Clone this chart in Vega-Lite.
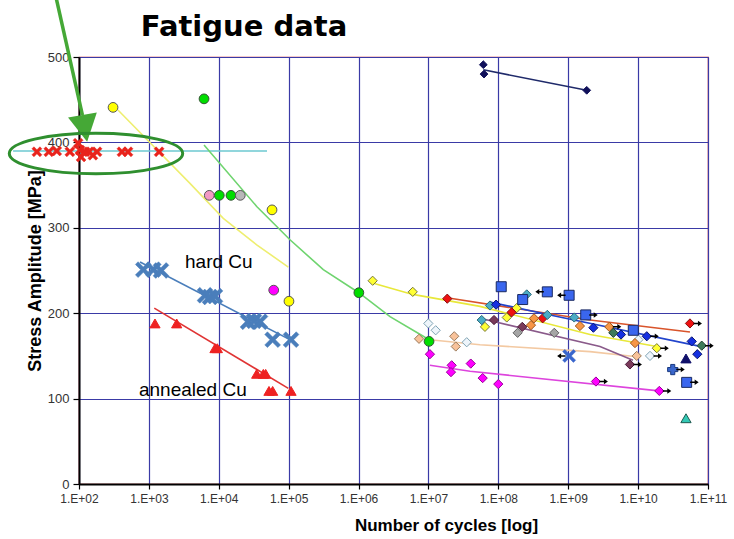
{
  "$schema": "https://vega.github.io/schema/vega-lite/v6.json",
  "width": 629,
  "height": 427,
  "autosize": {"type": "none"},
  "padding": {"left": 79, "top": 57, "right": 26, "bottom": 55},
  "background": "white",
  "config": {
    "view": {"stroke": "#d22b2b", "strokeWidth": 1.2},
    "axis": {
      "labelFont": "Liberation Sans",
      "titleFont": "Liberation Sans",
      "labelColor": "#333333",
      "titleColor": "black",
      "titleFontWeight": "bold",
      "titleFontSize": 17,
      "domainColor": "black",
      "domainWidth": 2,
      "tickColor": "black",
      "tickWidth": 1.2,
      "gridColor": "#3a3aa6",
      "gridWidth": 1.2,
      "gridOpacity": 1
    }
  },
  "datasets": {
    "minor": [
      {"s": 20}, {"s": 40}, {"s": 60}, {"s": 80},
      {"s": 120}, {"s": 140}, {"s": 160}, {"s": 180},
      {"s": 220}, {"s": 240}, {"s": 260}, {"s": 280},
      {"s": 320}, {"s": 340}, {"s": 360}, {"s": 380},
      {"s": 420}, {"s": 440}, {"s": 460}, {"s": 480}
    ],
    "fits": [
      {"fit": "ref390", "n": 11.4, "s": 390}, {"fit": "ref390", "n": 49000, "s": 390},
      {"fit": "yc", "n": 361, "s": 438}, {"fit": "yc", "n": 3870, "s": 352}, {"fit": "yc", "n": 11600, "s": 311}, {"fit": "yc", "n": 34900, "s": 280}, {"fit": "yc", "n": 98900, "s": 254},
      {"fit": "gc", "n": 6150, "s": 397}, {"fit": "gc", "n": 34900, "s": 325}, {"fit": "gc", "n": 104500, "s": 286}, {"fit": "gc", "n": 313000, "s": 251}, {"fit": "gc", "n": 1010000, "s": 224}, {"fit": "gc", "n": 2820000, "s": 196}, {"fit": "gc", "n": 8430000, "s": 173}, {"fit": "gc", "n": 10500000, "s": 168},
      {"fit": "hard Cu", "n": 747, "s": 260}, {"fit": "hard Cu", "n": 116000, "s": 167},
      {"fit": "annealed Cu", "n": 1194, "s": 206}, {"fit": "annealed Cu", "n": 98900, "s": 112},
      {"fit": "nd", "n": 61000000, "s": 485}, {"fit": "nd", "n": 1840000000, "s": 461},
      {"fit": "A", "n": 1630000, "s": 235}, {"fit": "A", "n": 5960000, "s": 222}, {"fit": "A", "n": 54700000, "s": 208}, {"fit": "A", "n": 2050000000, "s": 175}, {"fit": "A", "n": 18500000000, "s": 161},
      {"fit": "B", "n": 18400000, "s": 218}, {"fit": "B", "n": 2050000000, "s": 192}, {"fit": "B", "n": 55200000000, "s": 178},
      {"fit": "D", "n": 10500000, "s": 169}, {"fit": "D", "n": 54700000, "s": 163}, {"fit": "D", "n": 2050000000, "s": 155}, {"fit": "D", "n": 9550000000, "s": 149},
      {"fit": "E", "n": 10500000, "s": 139}, {"fit": "E", "n": 39400000, "s": 132}, {"fit": "E", "n": 19900000000, "s": 109},
      {"fit": "G", "n": 76000000, "s": 213}, {"fit": "G", "n": 550000000, "s": 198}, {"fit": "G", "n": 90600000000, "s": 160},
      {"fit": "J", "n": 54700000, "s": 194}, {"fit": "J", "n": 2850000000, "s": 161}, {"fit": "J", "n": 8450000000, "s": 145}
    ],
    "points": [
      {"series": "Cu", "n": 25, "s": 389}, {"series": "Cu", "n": 37, "s": 389}, {"series": "Cu", "n": 48, "s": 390}, {"series": "Cu", "n": 74, "s": 389},
      {"series": "Cu", "n": 97, "s": 399}, {"series": "Cu", "n": 103, "s": 391}, {"series": "Cu", "n": 107, "s": 383}, {"series": "Cu", "n": 122, "s": 389},
      {"series": "Cu", "n": 139, "s": 389}, {"series": "Cu", "n": 158, "s": 385}, {"series": "Cu", "n": 181, "s": 389}, {"series": "Cu", "n": 412, "s": 389},
      {"series": "Cu", "n": 502, "s": 389}, {"series": "Cu", "n": 1400, "s": 389},
      {"series": "hard Cu", "n": 832, "s": 251}, {"series": "hard Cu", "n": 1156, "s": 251}, {"series": "hard Cu", "n": 1489, "s": 250},
      {"series": "hard Cu", "n": 6350, "s": 221}, {"series": "hard Cu", "n": 7480, "s": 219}, {"series": "hard Cu", "n": 8830, "s": 220},
      {"series": "hard Cu", "n": 26200, "s": 190}, {"series": "hard Cu", "n": 31900, "s": 191}, {"series": "hard Cu", "n": 38900, "s": 190},
      {"series": "hard Cu", "n": 59000, "s": 169}, {"series": "hard Cu", "n": 108000, "s": 169},
      {"series": "annealed Cu", "n": 1222, "s": 188}, {"series": "annealed Cu", "n": 2500, "s": 188}, {"series": "annealed Cu", "n": 8830, "s": 159}, {"series": "annealed Cu", "n": 9530, "s": 159},
      {"series": "annealed Cu", "n": 34900, "s": 129}, {"series": "annealed Cu", "n": 43400, "s": 129}, {"series": "annealed Cu", "n": 46900, "s": 129},
      {"series": "annealed Cu", "n": 52300, "s": 109}, {"series": "annealed Cu", "n": 59000, "s": 109}, {"series": "annealed Cu", "n": 108000, "s": 109},
      {"series": "yc", "n": 307, "s": 441}, {"series": "yc", "n": 57800, "s": 321}, {"series": "yc", "n": 101000, "s": 214},
      {"series": "gc", "n": 6150, "s": 451}, {"series": "gc", "n": 10170, "s": 338}, {"series": "gc", "n": 14960, "s": 338}, {"series": "gc", "n": 1010000, "s": 224}, {"series": "gc", "n": 10200000, "s": 167},
      {"series": "pc", "n": 7310, "s": 338},
      {"series": "grc", "n": 20300, "s": 338},
      {"series": "mc", "n": 61100, "s": 227},
      {"series": "nd", "n": 61000000, "s": 491}, {"series": "nd", "n": 62400000, "s": 480}, {"series": "nd", "n": 1840000000, "s": 461},
      {"series": "A", "n": 1590000, "s": 238}, {"series": "A", "n": 5960000, "s": 225}, {"series": "A", "n": 64400000, "s": 184}, {"series": "A", "n": 132000000, "s": 195}, {"series": "A", "n": 183000000, "s": 206}, {"series": "A", "n": 18500000000, "s": 159, "runout": "right"},
      {"series": "B", "n": 18600000, "s": 217}, {"series": "B", "n": 155000000, "s": 201}, {"series": "B", "n": 431000000, "s": 194}, {"series": "B", "n": 55200000000, "s": 188, "runout": "right"},
      {"series": "C", "n": 9960000, "s": 188}, {"series": "C", "n": 12700000, "s": 180}, {"series": "C", "n": 35300000, "s": 166}, {"series": "C", "n": 10100000000, "s": 169}, {"series": "C", "n": 14800000000, "s": 150, "runout": "right"},
      {"series": "D", "n": 7330000, "s": 170}, {"series": "D", "n": 23400000, "s": 173}, {"series": "D", "n": 24600000, "s": 161}, {"series": "D", "n": 9550000000, "s": 150},
      {"series": "E", "n": 10500000, "s": 152}, {"series": "E", "n": 21500000, "s": 139}, {"series": "E", "n": 21000000, "s": 131}, {"series": "E", "n": 40300000, "s": 141}, {"series": "E", "n": 59700000, "s": 124}, {"series": "E", "n": 99800000, "s": 117}, {"series": "E", "n": 2490000000, "s": 120, "runout": "right"}, {"series": "E", "n": 20100000000, "s": 109, "runout": "right"},
      {"series": "F", "n": 255000000, "s": 222}, {"series": "F", "n": 76000000, "s": 209}, {"series": "F", "n": 57800000, "s": 192}, {"series": "F", "n": 502000000, "s": 198}, {"series": "F", "n": 1220000000, "s": 195},
      {"series": "G", "n": 92700000, "s": 210}, {"series": "G", "n": 2290000000, "s": 183}, {"series": "G", "n": 5690000000, "s": 175}, {"series": "G", "n": 13300000000, "s": 173, "runout": "right"}, {"series": "G", "n": 58500000000, "s": 167}, {"series": "G", "n": 70300000000, "s": 152},
      {"series": "H", "n": 110000000, "s": 231}, {"series": "H", "n": 223000000, "s": 216}, {"series": "H", "n": 502000000, "s": 225, "runout": "left"}, {"series": "H", "n": 1030000000, "s": 221, "runout": "left"}, {"series": "H", "n": 1780000000, "s": 198, "runout": "right"}, {"series": "H", "n": 8530000000, "s": 180}, {"series": "H", "n": 49500000000, "s": 119, "runout": "right"},
      {"series": "I", "n": 324000000, "s": 194}, {"series": "I", "n": 293000000, "s": 186}, {"series": "I", "n": 1470000000, "s": 185}, {"series": "I", "n": 3870000000, "s": 184, "runout": "right"}, {"series": "I", "n": 9020000000, "s": 165},
      {"series": "J", "n": 86700000, "s": 192}, {"series": "J", "n": 220000000, "s": 184}, {"series": "J", "n": 7640000000, "s": 140, "runout": "right"},
      {"series": "K", "n": 189000000, "s": 177}, {"series": "K", "n": 632000000, "s": 177},
      {"series": "L", "n": 4420000000, "s": 177}, {"series": "L", "n": 81300000000, "s": 162, "runout": "right"},
      {"series": "M", "n": 48400000000, "s": 147},
      {"series": "N", "n": 31300000000, "s": 134, "runout": "right"},
      {"series": "P", "n": 1030000000, "s": 150, "runout": "left"},
      {"series": "O", "n": 48400000000, "s": 77}
    ],
    "labels": [
      {"label": "hard Cu", "n": 3290, "s": 253},
      {"label": "annealed Cu", "n": 721, "s": 103}
    ],
    "heading": [{"label": "Fatigue data", "n": 22960, "s": 524.6}],
    "pointer": [
      {"n": 46, "s": 573},
      {"n": 112, "s": 432}
    ],
    "pointerHead": [{"n": 112, "s": 432}],
    "ring": [{"n": 175, "s": 387}]
  },
  "encoding": {
    "x": {
      "field": "n",
      "type": "quantitative",
      "scale": {"type": "log", "domain": [100, 100000000000], "nice": false},
      "axis": {
        "title": "Number of cycles [log]",
        "values": [100, 1000, 10000, 100000, 1000000, 10000000, 100000000, 1000000000, 10000000000, 100000000000],
        "labelExpr": "'1.E+' + format(round(log(datum.value) / LN10), '02d')",
        "grid": true,
        "tickSize": 5,
        "labelFontSize": 12,
        "labelPadding": 4,
        "labelFlush": false,
        "labelOverlap": false,
        "titleX": 367,
        "titleY": 33,
        "titleBaseline": "top",
        "titleAlign": "center"
      }
    },
    "y": {
      "field": "s",
      "type": "quantitative",
      "scale": {"domain": [0, 500], "nice": false, "zero": false},
      "axis": {
        "title": "Stress Amplitude [MPa]",
        "values": [0, 100, 200, 300, 400, 500],
        "grid": true,
        "tickSize": 6,
        "labelFontSize": 13,
        "labelPadding": 4,
        "titleFontSize": 18,
        "titlePadding": 3
      }
    }
  },
  "layer": [
    {
      "data": {"name": "minor"},
      "mark": {"type": "rule", "color": "#3cc6d6", "strokeWidth": 1.5, "strokeDash": [4, 2]},
      "encoding": {
        "x": {"datum": 100, "type": "quantitative"},
        "x2": {"datum": 100000000000}
      }
    },
    {
      "data": {"name": "fits"},
      "mark": {"type": "line", "strokeWidth": 1.6},
      "encoding": {
        "color": {
          "field": "fit",
          "type": "nominal",
          "legend": null,
          "scale": {
            "domain": ["ref390", "yc", "gc", "hard Cu", "annealed Cu", "nd", "A", "B", "D", "E", "G", "J"],
            "range": ["#6cc9d0", "#eeee70", "#6fd46f", "#4a7ebb", "#e03434", "#1f2a6a", "#e8e83a", "#d9542b", "#f3c9a2", "#dd44dd", "#2244cc", "#8a5a8a"]
          }
        }
      }
    },
    {
      "data": {"name": "points"},
      "encoding": {
        "color": {
          "field": "series", "type": "nominal", "legend": null,
          "scale": {
            "domain": ["Cu", "hard Cu", "annealed Cu", "yc", "gc", "pc", "grc", "mc", "nd", "A", "B", "C", "D", "E", "F", "G", "H", "I", "J", "K", "L", "M", "N", "P", "O"],
            "range": ["#e8231c", "#4a7ebb", "#ee2222", "#ffff00", "#00dd00", "#f29ac4", "#b8b8b8", "#ff00ff", "#10105a", "#ffff33", "#ee1111", "#eef5fb", "#f8c29a", "#ff00ff", "#4bacc6", "#1530e0", "#3a66ee", "#f79646", "#7a3a5a", "#a5a5a5", "#3d7a5a", "#10106a", "#3a66cc", "#3a66cc", "#33c9b5"]
          }
        },
        "stroke": {
          "field": "series", "type": "nominal", "legend": null,
          "scale": {
            "domain": ["Cu", "hard Cu", "annealed Cu", "yc", "gc", "pc", "grc", "mc", "nd", "A", "B", "C", "D", "E", "F", "G", "H", "I", "J", "K", "L", "M", "N", "P", "O"],
            "range": ["#e8231c", "#4a7ebb", "#ee2222", "#555555", "#335533", "#555555", "#555555", "#555555", "#10105a", "#77773a", "#881111", "#7fa3b3", "#9a7a5a", "#990099", "#2a6a7a", "#0a1570", "#1a2a60", "#a0581a", "#4a1a3a", "#606060", "#1f4030", "#10106a", "#1a3a80", "#3a66cc", "#1d5a50"]
          }
        },
        "shape": {
          "field": "series", "type": "nominal", "legend": null,
          "scale": {
            "domain": ["Cu", "hard Cu", "annealed Cu", "yc", "gc", "pc", "grc", "mc", "nd", "A", "B", "C", "D", "E", "F", "G", "H", "I", "J", "K", "L", "M", "N", "P", "O"],
            "range": [
              "M-1,-0.6L-0.6,-1L0,-0.4L0.6,-1L1,-0.6L0.4,0L1,0.6L0.6,1L0,0.4L-0.6,1L-1,0.6L-0.4,0Z",
              "M-1,-0.66L-0.66,-1L0,-0.34L0.66,-1L1,-0.66L0.34,0L1,0.66L0.66,1L0,0.34L-0.66,1L-1,0.66L-0.34,0Z",
              "triangle-up", "circle", "circle", "circle", "circle", "circle", "diamond",
              "diamond", "diamond", "diamond", "diamond", "diamond", "diamond", "diamond", "square",
              "diamond", "diamond", "diamond", "diamond", "triangle-up", "cross",
              "M-1,-0.66L-0.66,-1L0,-0.34L0.66,-1L1,-0.66L0.34,0L1,0.66L0.66,1L0,0.34L-0.66,1L-1,0.66L-0.34,0Z",
              "triangle-up"
            ]
          }
        }
      },
      "layer": [
        {
          "transform": [{"filter": "datum.series === 'Cu'"}],
          "mark": {"type": "point", "filled": true, "opacity": 1, "strokeWidth": 0.5, "size": 100}
        },
        {
          "transform": [{"filter": "datum.series === 'hard Cu'"}],
          "mark": {"type": "point", "filled": true, "opacity": 1, "strokeWidth": 0.5, "size": 250}
        },
        {
          "transform": [{"filter": "datum.series === 'P'"}],
          "mark": {"type": "point", "filled": true, "opacity": 1, "strokeWidth": 0.5, "size": 170}
        },
        {
          "transform": [{"filter": "indexof(['annealed Cu', 'M', 'O', 'N'], datum.series) >= 0"}],
          "mark": {"type": "point", "filled": true, "opacity": 1, "strokeWidth": 1, "size": 105}
        },
        {
          "transform": [{"filter": "indexof(['yc', 'gc', 'pc', 'grc', 'mc'], datum.series) >= 0"}],
          "mark": {"type": "point", "filled": true, "opacity": 1, "strokeWidth": 1, "size": 95}
        },
        {
          "transform": [{"filter": "datum.series === 'nd'"}],
          "mark": {"type": "point", "filled": true, "opacity": 1, "strokeWidth": 1, "size": 60}
        },
        {
          "transform": [{"filter": "indexof(['A', 'B', 'C', 'D', 'E', 'F', 'G', 'I', 'J', 'K', 'L'], datum.series) >= 0"}],
          "mark": {"type": "point", "filled": true, "opacity": 1, "strokeWidth": 1, "size": 85}
        },
        {
          "transform": [{"filter": "datum.series === 'H'"}],
          "mark": {"type": "point", "filled": true, "opacity": 1, "strokeWidth": 1, "size": 100}
        }
      ]
    },
    {
      "data": {"name": "points"},
      "transform": [{"filter": "datum.runout === 'right'"}],
      "mark": {"type": "point", "filled": true, "opacity": 1, "color": "black", "size": 100, "shape": "M0.7,-0.15L1.6,-0.15L1.6,-0.55L2.4,0L1.6,0.55L1.6,0.15L0.7,0.15Z"}
    },
    {
      "data": {"name": "points"},
      "transform": [{"filter": "datum.runout === 'left'"}],
      "mark": {"type": "point", "filled": true, "opacity": 1, "color": "black", "size": 100, "shape": "M-0.7,-0.15L-1.6,-0.15L-1.6,-0.55L-2.4,0L-1.6,0.55L-1.6,0.15L-0.7,0.15Z"}
    },
    {
      "data": {"name": "labels"},
      "mark": {"type": "text", "align": "left", "baseline": "alphabetic", "font": "Liberation Sans", "fontSize": 19, "color": "black"},
      "encoding": {"text": {"field": "label"}}
    },
    {
      "data": {"name": "heading"},
      "mark": {"type": "text", "align": "center", "baseline": "alphabetic", "font": "DejaVu Sans", "fontSize": 29, "fontWeight": "bold", "color": "black"},
      "encoding": {"text": {"field": "label"}}
    },
    {
      "data": {"name": "pointer"},
      "mark": {"type": "line", "color": "#45a836", "strokeWidth": 3.5},
      "encoding": {}
    },
    {
      "data": {"name": "pointerHead"},
      "mark": {"type": "point", "filled": true, "opacity": 1, "color": "#45a836", "size": 853, "angle": -10, "shape": "M-1,0L1,0L0,1.86Z"}
    },
    {
      "data": {"name": "ring"},
      "mark": {"type": "point", "filled": false, "opacity": 1, "color": "#2f8f2f", "strokeWidth": 3, "size": 30068, "shape": "M-1,0A1,0.234,0,1,1,1,0A1,0.234,0,1,1,-1,0Z"}
    }
  ],
  "resolve": {"scale": {"color": "independent"}}
}
